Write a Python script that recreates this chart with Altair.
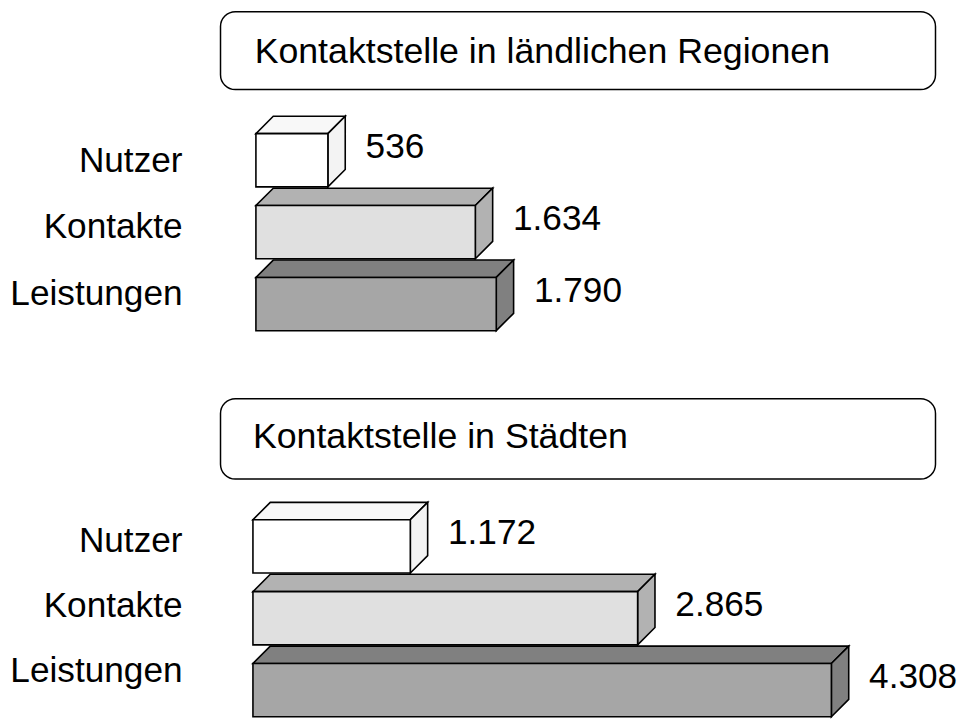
import altair as alt
import pandas as pd

# ---------------- data ----------------
CATEGORIES = ["Nutzer", "Kontakte", "Leistungen"]
PANEL_TITLES = ["Kontaktstelle in ländlichen Regionen", "Kontaktstelle in Städten"]
VALUES_RURAL = [536, 1634, 1790]
VALUES_CITY = [1172, 2865, 4308]
PANEL_VALUES = [VALUES_RURAL, VALUES_CITY]

FRONT_COLORS = ["#ffffff", "#e0e0e0", "#a6a6a6"]
TOP_COLORS = ["#f8f8f8", "#b2b2b2", "#808080"]
SIDE_COLORS = ["#f3f3f3", "#b2b2b2", "#808080"]

# ---------------- layout (pixels in chart coordinates) ----------------
W, H = 959, 712
K = 0.1354          # pixels per unit
DEPTH = 17.5        # 3D depth offset in px
BAR_H = 53.7
ROW_STEP = 72.5
FONT = "Liberation Sans"
LABEL_SIZE = 35.5
TITLE_SIZE = 36

LAYOUT = [
    dict(x0=250.0, bar_top=123.7, label_base=162.0, label_step=67.0,
         box_top=0.75, box_bot=79.3, title_y=52.0, title_x=248.7),
    dict(x0=247.0, bar_top=513.0, label_base=545.3, label_step=65.85,
         box_top=391.0, box_bot=472.0, title_y=440.3, title_x=247.0),
]
BOX_X0, BOX_X1 = 214.3, 935.3
LABEL_RIGHT = 176.0
VALUE_DX = 38
VALUE_BASE = 24.3


def fmt(v):
    return f"{v:,}".replace(",", ".")


ys = alt.Scale(domain=[0, H], range=[0, H])


def panel(p):
    L = LAYOUT[p]
    vals = PANEL_VALUES[p]
    xs = alt.Scale(domain=[0, 1000], range=[L["x0"], L["x0"] + 1000 * K])
    d = DEPTH / K

    front, faces, vlabels, clabels = [], [], [], []
    for r, (cat, v) in enumerate(zip(CATEGORIES, vals)):
        T = L["bar_top"] + r * ROW_STEP
        B = T + BAR_H
        front.append(dict(x0=0, x1=v, y=T, y2=B, fill=FRONT_COLORS[r]))
        gid = f"top{p}{r}"
        for xx, y1, y2 in [(0, T, T), (d, T, T - DEPTH), (v, T, T - DEPTH), (v + d, T - DEPTH, T - DEPTH)]:
            faces.append(dict(gid=gid, xx=xx, y=y1, y2=y2, fill=TOP_COLORS[r]))
        gid = f"side{p}{r}"
        for xx, y1, y2 in [(v, B, T), (v + d, B - DEPTH, T - DEPTH)]:
            faces.append(dict(gid=gid, xx=xx, y=y1, y2=y2, fill=SIDE_COLORS[r]))
        vlabels.append(dict(value=v, y=T + VALUE_BASE, label=fmt(v)))
        clabels.append(dict(cat=cat, y=L["label_base"] + r * L["label_step"]))

    front_df = pd.DataFrame(front)
    faces_df = pd.DataFrame(faces)
    vl_df = pd.DataFrame(vlabels)
    cl_df = pd.DataFrame(clabels)
    box_df = pd.DataFrame([dict(by=L["box_top"], by2=L["box_bot"], ty=L["title_y"], title=PANEL_TITLES[p])])

    box = alt.Chart(box_df).mark_rect(
        cornerRadius=15, fill="white", stroke="black", strokeWidth=1.5
    ).encode(
        x=alt.value(BOX_X0), x2=alt.value(BOX_X1),
        y=alt.Y("by:Q", scale=ys, axis=None), y2="by2:Q",
    )
    title = alt.Chart(box_df).mark_text(
        align="left", baseline="alphabetic", fontSize=TITLE_SIZE, font=FONT, color="black"
    ).encode(
        x=alt.value(L["title_x"]),
        y=alt.Y("ty:Q", scale=ys, axis=None),
        text="title:N",
    )

    fronts = alt.Chart(front_df).mark_rect(stroke="black", strokeWidth=1.6).encode(
        x=alt.X("x0:Q", scale=xs, axis=None), x2="x1:Q",
        y=alt.Y("y:Q", scale=ys, axis=None, stack=False), y2="y2:Q",
        fill=alt.Fill("fill:N", scale=None),
    )
    faces_layer = alt.Chart(faces_df).mark_area(
        stroke="black", strokeWidth=1.6, interpolate="linear"
    ).encode(
        x=alt.X("xx:Q", scale=xs, axis=None),
        y=alt.Y("y:Q", scale=ys, axis=None, stack=False), y2="y2:Q",
        fill=alt.Fill("fill:N", scale=None),
        detail="gid:N",
    )
    values = alt.Chart(vl_df).mark_text(
        align="left", baseline="alphabetic", dx=VALUE_DX, fontSize=LABEL_SIZE, font=FONT, color="black"
    ).encode(
        x=alt.X("value:Q", scale=xs, axis=None),
        y=alt.Y("y:Q", scale=ys, axis=None),
        text="label:N",
    )
    cats = alt.Chart(cl_df).mark_text(
        align="right", baseline="alphabetic", fontSize=LABEL_SIZE, font=FONT, color="black"
    ).encode(
        x=alt.value(LABEL_RIGHT),
        y=alt.Y("y:Q", scale=ys, axis=None),
        text="cat:N",
    )
    return alt.layer(box, title, faces_layer, fronts, values, cats)


chart = alt.layer(panel(0), panel(1)).resolve_scale(x="independent").properties(
    width=W, height=H, padding=0, autosize="none", background="white"
).configure_view(stroke=None)

chart.save("out.html", embed_options={"renderer": "svg", "actions": False})
